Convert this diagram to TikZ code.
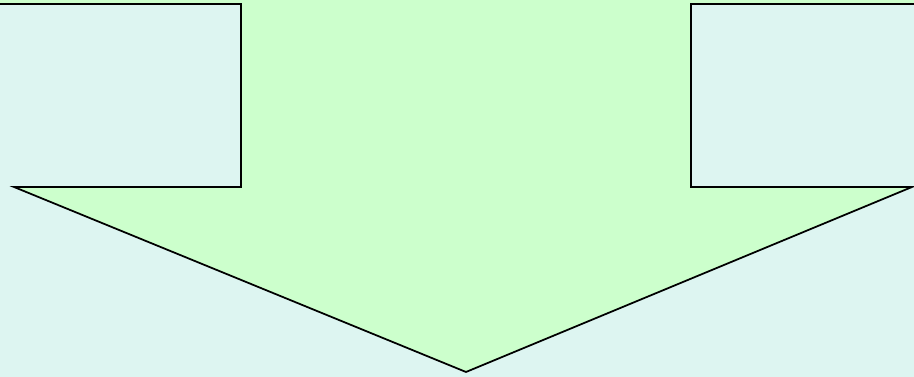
\documentclass[tikz,border=0pt]{standalone}
\usepackage{xcolor}
\usepackage{tikz}

\definecolor{arrowgreen}{RGB}{204,255,204}
\definecolor{paleteal}{RGB}{221,245,241}

\begin{document}
\begin{tikzpicture}[
    x=0.02cm, y=-0.02cm,
    outline/.style={draw=black, line width=1pt, line join=miter},
    bg/.style={fill=paleteal}
]
\useasboundingbox (0,0) rectangle (914,377);
\fill[arrowgreen] (0,0) rectangle (914,377);

% corner points of the big down arrow
\coordinate (ltop) at (0,4);
\coordinate (lshaft) at (241,4);
\coordinate (lneck) at (241,187);
\coordinate (lhead) at (14,187);
\coordinate (tip) at (466,372);
\coordinate (rhead) at (912,187);
\coordinate (rneck) at (691,187);
\coordinate (rshaft) at (691,4);
\coordinate (rtop) at (914,4);

\fill[bg] (ltop) -- (lshaft) -- (lneck) -- (lhead) -- (tip) -- (rhead) -- (rneck) -- (rshaft) -- (rtop) -- (914,377) -- (0,377) -- cycle;
\draw[outline] (ltop) -- (lshaft) -- (lneck) -- (lhead) -- (tip) -- (rhead) -- (rneck) -- (rshaft) -- (rtop);
\end{tikzpicture}
\end{document}
